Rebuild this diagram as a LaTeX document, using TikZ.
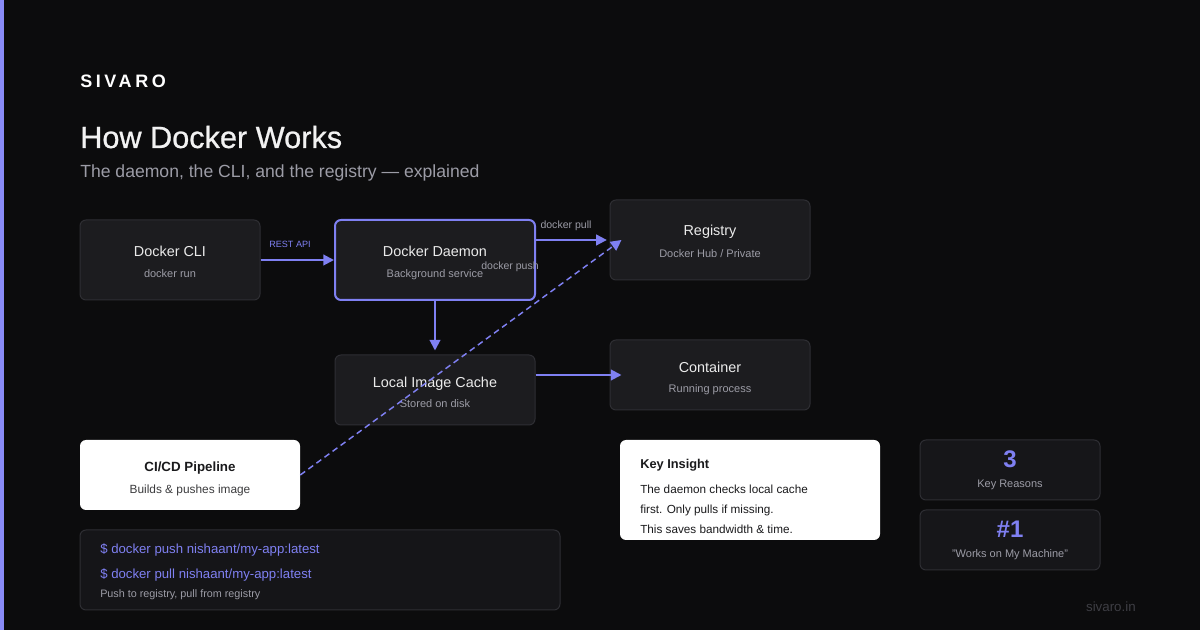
\documentclass[tikz,border=0pt]{standalone}
\usepackage{fontspec}
\setmainfont{Liberation Sans}
\usetikzlibrary{arrows.meta}

\definecolor{bg}{HTML}{0C0C0D}
\definecolor{accent}{HTML}{7F80F2}
\definecolor{stripe}{HTML}{8A8BF7}
\definecolor{card}{HTML}{1C1C1F}
\definecolor{cardline}{HTML}{2E2E33}
\definecolor{codebg}{HTML}{151518}
\definecolor{muted}{HTML}{9C9CA6}
\definecolor{ink}{HTML}{1A1A1C}
\definecolor{faint}{HTML}{3E3E44}

\begin{document}
\begin{tikzpicture}[x=0.75pt,y=-0.75pt,
        card/.style={draw=cardline,line width=0.75pt,fill=card,rounded corners=4.5pt,inner sep=0pt,minimum width=150pt,minimum height=60pt},
        lightcard/.style={fill=white,rounded corners=4.5pt,inner sep=0pt},
        head/.style={text=white!92!black,font=\fontsize{10.8}{12}\selectfont,inner sep=0pt,anchor=base},
        sub/.style={text=muted,font=\fontsize{8.25}{10}\selectfont,inner sep=0pt,anchor=base},
        lbl/.style={text=muted,font=\fontsize{7.9}{9}\selectfont,inner sep=0pt,anchor=base},
        flow/.style={draw=accent,line width=1.5pt,-{Triangle[length=8pt,width=8pt]}},
        code/.style={text=accent,font=\fontsize{9.9}{12}\selectfont,inner sep=0pt,anchor=base west},
        dark/.style={text=ink,font=\fontsize{8.8}{10}\selectfont,inner sep=0pt,anchor=base west}]
    \useasboundingbox (0,0) rectangle (1200,630);
    \fill[bg] (0,0) rectangle (1200,630);
    \fill[stripe] (0,0) rectangle (4,630);

    % header
    \node[text=white,font=\bfseries\fontsize{13.5}{16}\selectfont\addfontfeature{LetterSpace=20},inner sep=0pt,anchor=base west] (brand) at (80,88) {SIVARO};
    \node[text=white!95!black,font=\fontsize{23}{27}\selectfont\addfontfeature{FakeBold=0.8},inner sep=0pt,anchor=base west] (title) at (80,148) {How Docker Works};
    \node[text=muted,font=\fontsize{13.2}{16}\selectfont,inner sep=0pt,anchor=base west] (subtitle) at (80,178) {The daemon, the CLI, and the registry — explained};

    % cards
    \node[card,minimum width=135pt] (cli) at (170,260) {};
    \node[card,draw=accent,line width=1.5pt] (daemon) at (435,260) {};
    \node[card] (registry) at (710,240) {};
    \node[card,minimum height=52.5pt] (cache) at (435,390) {};
    \node[card,minimum height=52.5pt] (container) at (710,375) {};
    \node[lightcard,minimum width=165pt,minimum height=52.5pt] (cicd) at (190,475) {};

    \node[head] (cliName) at (170,257) {Docker CLI};
    \node[sub] (cliNote) at (170,278) {docker run};
    \node[head] (daemonName) at (435,257) {Docker Daemon};
    \node[sub] (daemonNote) at (435,278) {Background service};
    \node[head] (registryName) at (710,236) {Registry};
    \node[sub] (registryNote) at (710,258) {Docker Hub / Private};
    \node[head] (cacheName) at (435,388) {Local Image Cache};
    \node[sub] (cacheNote) at (435,408) {Stored on disk};
    \node[head] (containerName) at (710,373) {Container};
    \node[sub] (containerNote) at (710,393) {Running process};
    \node[head,text=ink,font=\bfseries\fontsize{10}{12}\selectfont] (cicdName) at (190,472) {CI/CD Pipeline};
    \node[sub,text=ink!85,font=\fontsize{8.9}{10}\selectfont] (cicdNote) at (190,494) {Builds \& pushes image};

    % connectors
    \draw[flow] (cli.east) -- (daemon.west);
    \draw[flow] (daemon.east |- registry.west) -- ([xshift=-2pt]registry.west);
    \draw[flow] (daemon.south) -- ([yshift=3pt]cache.north);
    \draw[flow] (cache.east |- container.west) -- ([xshift=9pt]container.west);
    \draw[flow,line width=1.1pt,dash pattern=on 4.5pt off 3pt] (cicd.east) -- ([xshift=9pt]registry.west);

    \node[lbl,text=accent,font=\fontsize{6.8}{8}\selectfont] (restLbl) at (290,248) {REST API};
    \node[lbl] (pullLbl) at (566,229) {docker pull};
    \node[lbl] (pushLbl) at (510,270) {docker push};

    % commands
    \node[draw=cardline,line width=0.75pt,fill=codebg,rounded corners=4.5pt,minimum width=360pt,minimum height=60pt] (cmds) at (320,570) {};
    \node[code] (pushCmd) at (100,554) {\$ docker push nishaant/my-app:latest};
    \node[code] (pullCmd) at (100,578.5) {\$ docker pull nishaant/my-app:latest};
    \node[sub,anchor=base west,font=\fontsize{8.1}{10}\selectfont] (cmdNote) at (100,598) {Push to registry, pull from registry};

    % insight
    \node[lightcard,minimum width=195pt,minimum height=75pt] (insight) at (750,490) {};
    \node[dark,font=\bfseries\fontsize{9.6}{12}\selectfont] (insightHead) at (640,469) {Key Insight};
    \node[dark] (insightA) at (640,494) {The daemon checks local cache};
    \node[dark] (insightB) at (640,514) {first. Only pulls if missing.};
    \node[dark] (insightC) at (640,534) {This saves bandwidth \& time.};

    % stats
    \node[card,fill=codebg!80!card,minimum width=135pt,minimum height=45pt] (statA) at (1010,470) {};
    \node[card,fill=codebg!80!card,minimum width=135pt,minimum height=45pt] (statB) at (1010,540) {};
    \node[head,text=accent,font=\bfseries\fontsize{18}{20}\selectfont] (statANum) at (1010,468) {3};
    \node[sub] (statAText) at (1010,488) {Key Reasons};
    \node[head,text=accent,font=\bfseries\fontsize{18}{20}\selectfont] (statBNum) at (1010,538) {\#1};
    \node[sub] (statBText) at (1010,558) {"Works on My Machine"};

    \node[text=faint,font=\fontsize{10}{12}\selectfont,inner sep=0pt,anchor=base east] (site) at (1136,612) {sivaro.in};
\end{tikzpicture}
\end{document}
